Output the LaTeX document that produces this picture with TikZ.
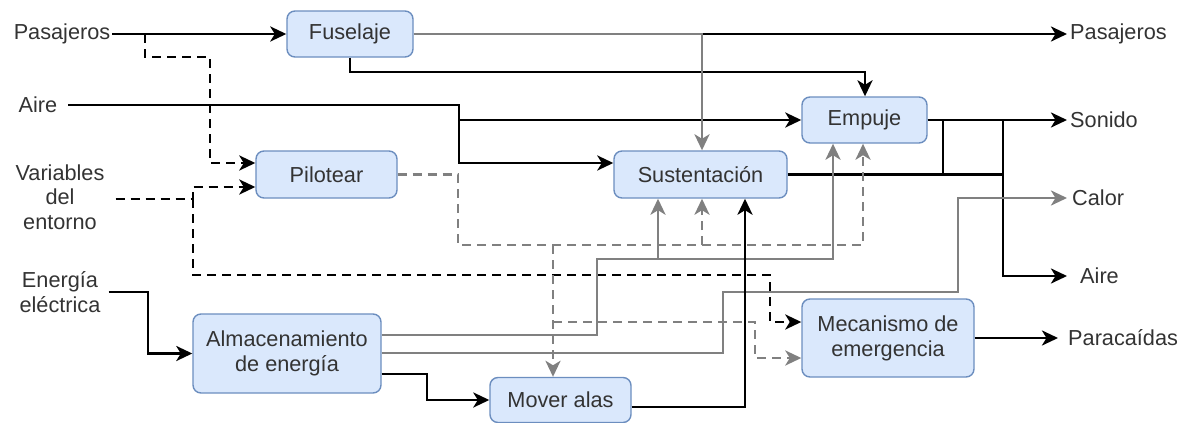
\documentclass[tikz,border=0pt]{standalone}
\usepackage{fontspec}
\setmainfont{Liberation Sans}
\usetikzlibrary{arrows.meta,calc}
\definecolor{boxfill}{HTML}{DAE8FC}
\definecolor{boxdraw}{HTML}{6C8EBF}
\definecolor{gline}{HTML}{808080}
\definecolor{txt}{HTML}{333333}
\begin{document}
\begin{tikzpicture}[x=1pt,y=-1pt,
 proc/.style={draw=boxdraw, fill=boxfill, rounded corners=8pt, line width=1.4pt, align=center, text=txt, font=\fontsize{21.7}{25}\selectfont, inner sep=0pt},
 lbl/.style={text=txt, align=center, font=\fontsize{21.7}{24.5}\selectfont, inner sep=0pt},
 blk/.style={draw=black, line width=2.8pt},
 gry/.style={draw=gline, line width=2.8pt},
 tip/.style={-{Stealth[length=16pt,width=15pt,inset=4.5pt]}},
 dsh/.style={dash pattern=on 9pt off 6pt}]
\useasboundingbox (0,0) rectangle (1189,423);

% process boxes
\node[proc, minimum width=126pt, minimum height=46pt] (fus) at (350,34) {Fuselaje};
\node[proc, minimum width=125pt, minimum height=46pt] (emp) at (864.5,120) {Empuje};
\node[proc, minimum width=141pt, minimum height=47pt] (pil) at (326.5,174.5) {Pilotear};
\node[proc, minimum width=173pt, minimum height=47pt] (sus) at (700.5,174.5) {Sustentación};
\node[proc, minimum width=188pt, minimum height=79pt] (alm) at (287,353.5) {Almacenamiento\\de energía};
\node[proc, minimum width=141pt, minimum height=45pt] (mov) at (560.5,400) {Mover alas};
\node[proc, minimum width=172pt, minimum height=78pt] (mec) at (888,338) {Mecanismo de\\emergencia};

% input labels
\node[lbl] (inPas) at (62,34) {Pasajeros};
\node[lbl] (inAir) at (38,105) {Aire};
\node[lbl] (inVar) at (60,197) {Variables\\del\\entorno};
\node[lbl] (inEne) at (60,292) {Energía\\eléctrica};

% output labels
\node[lbl, anchor=west] (outPas) at (1070,34) {Pasajeros};
\node[lbl, anchor=west] (outSon) at (1070,120) {Sonido};
\node[lbl, anchor=west] (outCal) at (1072,198) {Calor};
\node[lbl, anchor=west] (outAir) at (1080,276) {Aire};
\node[lbl, anchor=west] (outPar) at (1068,338) {Paracaídas};

% junctions
\coordinate (jp) at (145,34);
\coordinate (jv) at (193,199);
\coordinate (jf) at (702,34);
\coordinate (ja) at (459,120);
\coordinate (jd1) at (702,245);
\coordinate (jd2) at (553,245);
\coordinate (jd3) at (553,322);
\coordinate (jg) at (658,259);
\coordinate (js) at (943,174.5);

% black solid
\draw[blk,tip] ([xshift=2pt]inPas.east) -- (fus.west);
\draw[blk,tip] (jf) -- ([xshift=-3pt]outPas.west);
\draw[blk,tip] (fus.south) -- (350,72) -- (865,72) -- (865,0 |- emp.north);
\draw[blk,tip] ([xshift=11pt]inAir.east) -- (459,105) -- (ja) -- (emp.west);
\draw[blk,tip] (ja) -- (459,163) -- (sus.west |- 0,163);
\draw[blk,tip] (emp.east) -- ([xshift=-3pt]outSon.west);
\draw[blk] (sus.east) -- (1003,174.5);
\draw[blk] (js) -- (943,120);
\draw[blk,tip] (emp.east) -- (1003,120) -- (1003,276) -- ([xshift=-13pt]outAir.west);
\draw[blk,tip] ([xshift=8pt]inEne.east) -- (148,292) -- (148,353.5) -- (alm.west);
\draw[blk,tip] (alm.east |- 0,374) -- (427,374) -- (427,400) -- (mov.west);
\draw[blk,tip] (mec.east) -- ([xshift=-10pt]outPar.west);

% black dashed
\draw[blk,dsh,tip] (jp) -- (145,57) -- (210,57) -- (210,163) -- (pil.west |- 0,163);
\draw[blk,dsh,tip] ([xshift=11pt,yshift=-2pt]inVar.east) -- (jv) -- (193,187) -- (pil.west |- 0,187);
\draw[blk,dsh,tip] (jv) -- (193,275) -- (770,275) -- (770,322) -- (mec.west |- 0,322);

% gray dashed
\draw[gry,dsh,tip] (pil.east) -- (458,174.5) -- (458,245) -- (863,245) -- (863,0 |- emp.south);
\draw[gry,dsh,tip] (jd1) -- (702,0 |- sus.south);
\draw[gry,dsh,tip] (jd2) -- (553,0 |- mov.north);
\draw[gry,dsh,tip] (jd3) -- (755,322) -- (755,358) -- (mec.west |- 0,358);

% gray solid
\draw[gry,tip] (fus.east) -- (jf) -- (702,0 |- sus.north);
\draw[gry,tip] (alm.east |- 0,335) -- (597,335) -- (597,259) -- (833,259) -- (833,0 |- emp.south);
\draw[gry,tip] (jg) -- (658,0 |- sus.south);
\draw[gry,tip] (alm.east |- 0,353) -- (723,353) -- (723,292) -- (958,292) -- (958,198) -- ([xshift=-5pt]outCal.west);

% black over gray
\draw[blk,tip] (mov.east |- 0,407) -- (745,407) -- (745,0 |- sus.south);
\end{tikzpicture}
\end{document}
